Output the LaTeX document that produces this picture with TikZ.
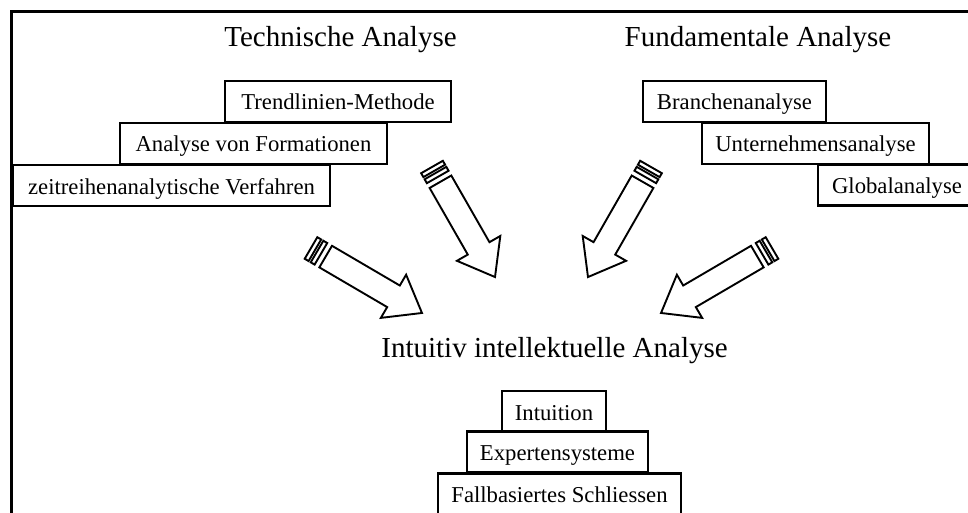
\documentclass[tikz,border=0pt]{standalone}
\usepackage{fontspec}
\setmainfont{Liberation Serif}
\tikzset{
  boxnode/.style={draw, line width=2.3pt, inner sep=0pt, minimum height=41pt,
    font=\fontsize{22.7}{24}\selectfont, text height=22pt, text depth=5pt},
  titlenode/.style={inner sep=0pt, anchor=base, font=\fontsize{29}{32}\selectfont},
  arrowline/.style={draw, line width=1.9pt, line join=miter, fill=white}
}
\newcommand{\stripedarrow}[3]{%
  \begin{scope}[shift={(#1)}, rotate=#2]
    \path[arrowline] (0,-12.5) rectangle (4.5,12.5);
    \path[arrowline] (7,-12.5) rectangle (11.5,12.5);
    \path[arrowline] (17,-12.5) -- ({#3-33},-12.5) -- ({#3-33},-25) -- (#3,0)
      -- ({#3-33},25) -- ({#3-33},12.5) -- (17,12.5) -- cycle;
  \end{scope}}
\begin{document}
\begin{tikzpicture}[x=1pt, y=-1pt]
  \useasboundingbox (0,0) rectangle (968,513);
  \clip (0,0) rectangle (968,513);
  % frame
  \draw[line width=3pt, line join=miter] (11.7,520) -- (11.7,12) -- (975,12);
  % titles
  \node[titlenode] (tech) at (340.5,47) {Technische Analyse};
  \node[titlenode] (fund) at (758,47) {Fundamentale Analyse};
  \node[titlenode] (intu) at (554.5,357) {Intuitiv intellektuelle Analyse};
  % left boxes
  \node[boxnode, minimum width=226pt] (trend) at (338,101.5) {Trendlinien-Methode};
  \node[boxnode, minimum width=267pt] (form) at (253.5,143.5) {Analyse von Formationen};
  \node[boxnode, minimum width=317pt] (zeit) at (171.5,185.5) {zeitreihenanalytische Verfahren};
  % right boxes
  \node[boxnode, minimum width=183pt] (branch) at (734.5,101.5) {Branchenanalyse};
  \node[boxnode, minimum width=227pt] (untern) at (815.5,143.5) {Unternehmensanalyse};
  \node[boxnode, minimum width=158pt] (global) at (897,185) {Globalanalyse};
  % bottom boxes
  \node[boxnode, minimum width=104pt] (intuition) at (554,411.5) {Intuition};
  \node[boxnode, minimum width=181pt] (experten) at (557.5,452) {Expertensysteme};
  \node[boxnode, minimum width=243pt] (fall) at (559.5,494) {Fallbasiertes Schliessen};
  % striped block arrows
  \stripedarrow{311,248}{-30.35}{128.6}
  \stripedarrow{432,167}{-60.2}{126.8}
  \stripedarrow{651,167}{-119.8}{126.8}
  \stripedarrow{772,248}{-149.65}{128.6}
\end{tikzpicture}
\end{document}
